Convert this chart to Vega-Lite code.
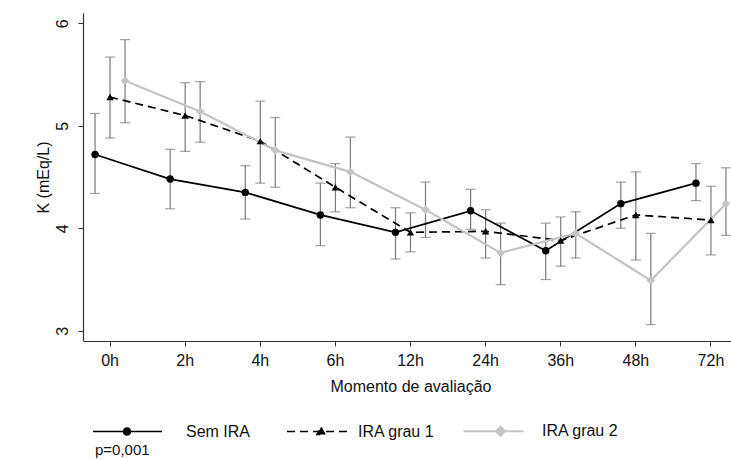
{
  "$schema": "https://vega.github.io/schema/vega-lite/v6.json",
  "width": 648,
  "height": 328,
  "autosize": {"type": "none"},
  "padding": {"left": 83, "top": 13, "right": 0, "bottom": 118},
  "background": "white",
  "config": {
    "font": "Liberation Sans",
    "view": {"stroke": null},
    "axis": {"grid": false, "domainColor": "#333333", "tickColor": "#333333", "labelColor": "#111111", "titleColor": "#111111", "labelFontSize": 16, "titleFontSize": 16, "titleFontWeight": "normal", "tickSize": 5, "domainWidth": 1.2}
  },
  "data": {"values": [
    {"t": "0h", "s": "Sem IRA", "m": 4.72, "lo": 4.34, "hi": 5.12},
    {"t": "2h", "s": "Sem IRA", "m": 4.48, "lo": 4.19, "hi": 4.77},
    {"t": "4h", "s": "Sem IRA", "m": 4.35, "lo": 4.09, "hi": 4.61},
    {"t": "6h", "s": "Sem IRA", "m": 4.13, "lo": 3.83, "hi": 4.44},
    {"t": "12h", "s": "Sem IRA", "m": 3.96, "lo": 3.70, "hi": 4.20},
    {"t": "24h", "s": "Sem IRA", "m": 4.17, "lo": 3.99, "hi": 4.38},
    {"t": "36h", "s": "Sem IRA", "m": 3.78, "lo": 3.50, "hi": 4.05},
    {"t": "48h", "s": "Sem IRA", "m": 4.24, "lo": 4.00, "hi": 4.45},
    {"t": "72h", "s": "Sem IRA", "m": 4.44, "lo": 4.27, "hi": 4.63},
    {"t": "0h", "s": "IRA grau 1", "m": 5.28, "lo": 4.88, "hi": 5.67},
    {"t": "2h", "s": "IRA grau 1", "m": 5.10, "lo": 4.75, "hi": 5.42},
    {"t": "4h", "s": "IRA grau 1", "m": 4.85, "lo": 4.44, "hi": 5.24},
    {"t": "6h", "s": "IRA grau 1", "m": 4.40, "lo": 4.16, "hi": 4.63},
    {"t": "12h", "s": "IRA grau 1", "m": 3.96, "lo": 3.77, "hi": 4.15},
    {"t": "24h", "s": "IRA grau 1", "m": 3.97, "lo": 3.71, "hi": 4.18},
    {"t": "36h", "s": "IRA grau 1", "m": 3.88, "lo": 3.63, "hi": 4.11},
    {"t": "48h", "s": "IRA grau 1", "m": 4.13, "lo": 3.69, "hi": 4.55},
    {"t": "72h", "s": "IRA grau 1", "m": 4.08, "lo": 3.74, "hi": 4.41},
    {"t": "0h", "s": "IRA grau 2", "m": 5.44, "lo": 5.03, "hi": 5.84},
    {"t": "2h", "s": "IRA grau 2", "m": 5.14, "lo": 4.84, "hi": 5.43},
    {"t": "4h", "s": "IRA grau 2", "m": 4.76, "lo": 4.40, "hi": 5.08},
    {"t": "6h", "s": "IRA grau 2", "m": 4.55, "lo": 4.20, "hi": 4.89},
    {"t": "12h", "s": "IRA grau 2", "m": 4.18, "lo": 3.91, "hi": 4.45},
    {"t": "24h", "s": "IRA grau 2", "m": 3.76, "lo": 3.45, "hi": 4.05},
    {"t": "36h", "s": "IRA grau 2", "m": 3.95, "lo": 3.71, "hi": 4.16},
    {"t": "48h", "s": "IRA grau 2", "m": 3.49, "lo": 3.06, "hi": 3.95},
    {"t": "72h", "s": "IRA grau 2", "m": 4.24, "lo": 3.93, "hi": 4.59}
  ]},
  "encoding": {
    "x": {
      "field": "t", "type": "ordinal",
      "sort": ["0h", "2h", "4h", "6h", "12h", "24h", "36h", "48h", "72h"],
      "scale": {"type": "band", "range": [0, 655], "paddingInner": 0.6, "paddingOuter": 0.16},
      "axis": {"title": "Momento de avaliação", "labelAngle": 0, "labelPadding": 6, "titlePadding": 10}
    },
    "xOffset": {
      "field": "s", "type": "nominal",
      "sort": ["Sem IRA", "IRA grau 1", "IRA grau 2"],
      "scale": {"range": [-7.48, 37.52], "paddingInner": 0, "paddingOuter": 0}
    },
    "y": {"field": "m", "type": "quantitative", "scale": {"domain": [2.9, 6.1], "nice": false, "zero": false},
      "axis": {"title": "K (mEq/L)", "values": [3, 4, 5, 6], "format": "d", "labelAngle": -90, "labelPadding": 8, "titlePadding": 3}},
    "color": {
      "field": "s", "type": "nominal",
      "sort": ["Sem IRA", "IRA grau 1", "IRA grau 2"],
      "scale": {"domain": ["Sem IRA", "IRA grau 1", "IRA grau 2"], "range": ["#000000", "#000000", "#c4c4c4"]},
      "legend": {
        "orient": "none", "legendX": 12, "legendY": 410, "direction": "horizontal",
        "title": "p=0,001", "titleOrient": "bottom", "titleAnchor": "start", "titleFontSize": 15, "titleFontWeight": "normal", "titleColor": "#111111", "titlePadding": 3,
        "labelFontSize": 16, "labelColor": "#111111", "symbolSize": 4900, "labelOffset": 75, "columnPadding": 16, "padding": 0,
        "encode": {"symbols": {"update": {
          "shape": {"signal": "datum.value === 'Sem IRA' ? 'M-0.286,0H1.686M0.586,0A0.1,0.1 0 1,0 0.786,0A0.1,0.1 0 1,0 0.586,0Z' : datum.value === 'IRA grau 1' ? 'M0.343,0H2.171M1.314,-0.115L1.431,0.085L1.197,0.085Z' : 'M0.129,0H1.843M1.186,-0.13L1.316,0L1.186,0.13L1.056,0Z'"},
          "size": {"value": 4900},
          "fill": {"signal": "datum.value === 'IRA grau 2' ? '#c4c4c4' : '#000000'"},
          "stroke": {"signal": "datum.value === 'IRA grau 2' ? '#c4c4c4' : '#000000'"},
          "strokeDash": {"signal": "datum.value === 'IRA grau 1' ? [8, 5] : []"},
          "strokeWidth": {"signal": "datum.value === 'IRA grau 2' ? 2 : 1.5"},
          "opacity": {"value": 1}
        }}}
      }
    }
  },
  "layer": [
    {
      "mark": {"type": "rule", "strokeWidth": 1.2},
      "encoding": {
        "color": {"value": "#7a7a7a"},
        "y": {"field": "lo", "type": "quantitative"},
        "y2": {"field": "hi"}
      }
    },
    {
      "mark": {"type": "tick", "thickness": 1.2, "size": 10, "orient": "horizontal"},
      "encoding": {"color": {"value": "#7a7a7a"}, "y": {"field": "lo", "type": "quantitative"}}
    },
    {
      "mark": {"type": "tick", "thickness": 1.2, "size": 10, "orient": "horizontal"},
      "encoding": {"color": {"value": "#7a7a7a"}, "y": {"field": "hi", "type": "quantitative"}}
    },
    {
      "transform": [{"filter": "datum.s === 'Sem IRA'"}],
      "mark": {"type": "line", "strokeWidth": 1.7}
    },
    {
      "transform": [{"filter": "datum.s === 'IRA grau 1'"}],
      "mark": {"type": "line", "strokeWidth": 1.7, "strokeDash": [8, 5]}
    },
    {
      "transform": [{"filter": "datum.s === 'IRA grau 2'"}],
      "mark": {"type": "line", "strokeWidth": 2.2}
    },
    {
      "transform": [{"filter": "datum.s === 'Sem IRA'"}],
      "mark": {"type": "point", "filled": true, "opacity": 1, "shape": "circle", "size": 55}
    },
    {
      "transform": [{"filter": "datum.s === 'IRA grau 1'"}],
      "mark": {"type": "point", "filled": true, "opacity": 1, "shape": "triangle-up", "size": 55}
    },
    {
      "transform": [{"filter": "datum.s === 'IRA grau 2'"}],
      "mark": {"type": "point", "filled": true, "opacity": 1, "shape": "diamond", "size": 75}
    }
  ]
}
